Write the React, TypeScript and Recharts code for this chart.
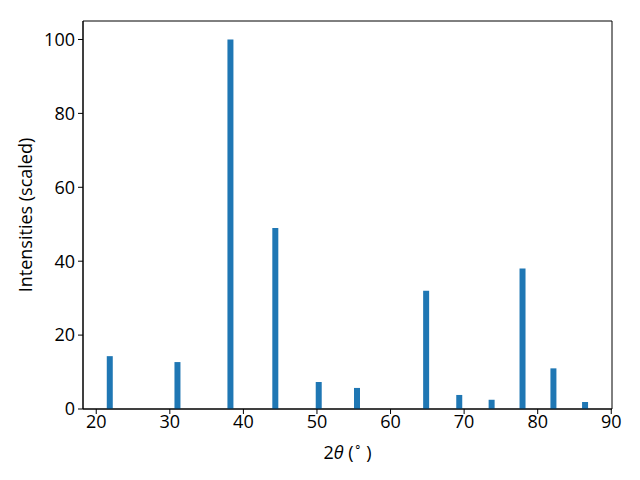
import React from 'react';
import { BarChart, Bar, XAxis, YAxis, ReferenceArea } from 'recharts';

const angles = [21.9, 31.1, 38.3, 44.4, 50.3, 55.5, 64.9, 69.4, 73.8, 78.0, 82.2, 86.5];
const intensities = [14.3, 12.7, 100, 49, 7.3, 5.7, 32, 3.8, 2.5, 38, 11, 1.9];
const xTicks = [20, 30, 40, 50, 60, 70, 80, 90];
const yTicks = [0, 20, 40, 60, 80, 100];

const data = angles.map((a, i) => ({ angle: a, intensity: intensities[i] }));

const font = '"Open Sans", sans-serif';
const fs = 18;

const XLabel = (props: any) => {
  const vb = props.viewBox || {};
  const cx = vb.x + vb.width / 2;
  return (
    <text x={cx} y={459} textAnchor="middle" fontSize={fs} fontFamily={font} fill="#000">
      <tspan>2</tspan>
      <tspan fontStyle="italic">θ</tspan>
      <tspan> (</tspan>
      <tspan fontSize={12} dy={-8}>∘</tspan>
      <tspan dy={8}> )</tspan>
    </text>
  );
};

const YLabel = () => (
  <text x={0} y={0} transform="translate(32, 215) rotate(-90)" textAnchor="middle" fontSize={fs} fontFamily={font} fill="#000">
    Intensities (scaled)
  </text>
);

const App: React.FC = () => {
  return (
    <div style={{ position: 'absolute', left: 0, top: 0 }}>
      <BarChart
        width={640}
        height={480}
        data={data}
        margin={{ top: 21, right: 28, bottom: 0, left: 0 }}
        style={{ fontFamily: font }}
      >
        <XAxis
          dataKey="angle"
          type="number"
          domain={[18.2, 90.1]}
          ticks={xTicks}
          height={71}
          stroke="#000"
          tickSize={5}
          tick={{ fontSize: fs, fill: '#000', fontFamily: font }}
          tickMargin={1}
          label={<XLabel />}
        />
        <YAxis
          type="number"
          domain={[0, 105]}
          ticks={yTicks}
          width={83}
          stroke="#000"
          tickSize={5}
          tick={{ fontSize: fs, fill: '#000', fontFamily: font }}
          tickMargin={3}
          label={<YLabel />}
        />
        <ReferenceArea x1={18.2} x2={90.1} y1={0} y2={105} fill="none" stroke="#000" strokeWidth={1} ifOverflow="visible" />
        <Bar dataKey="intensity" fill="#1f77b4" barSize={6} isAnimationActive={false} />
      </BarChart>
    </div>
  );
};

export default App;
